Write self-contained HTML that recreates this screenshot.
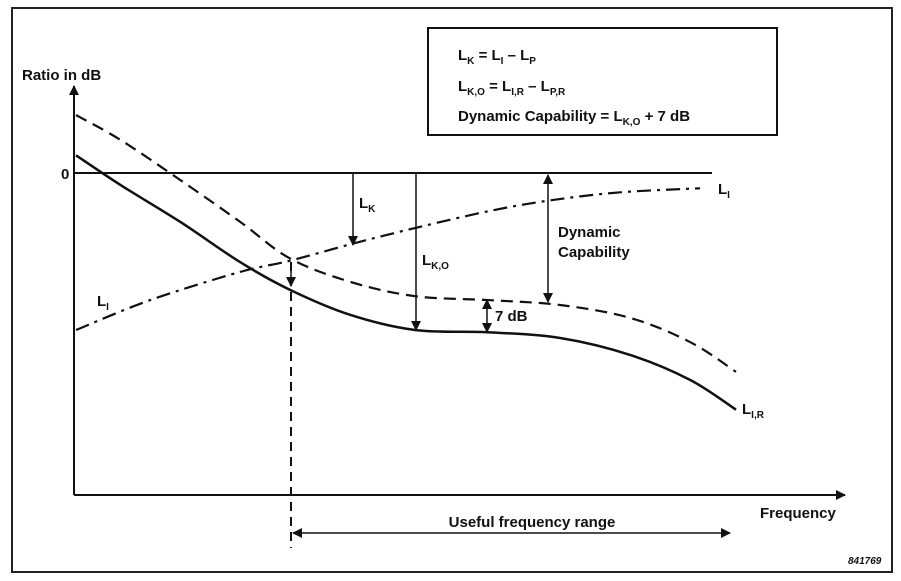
<!DOCTYPE html>
<html><head><meta charset="utf-8"><style>
body{margin:0;background:#fff}
svg{display:block;font-family:"Liberation Sans",Arial,sans-serif;font-weight:bold}
text{fill:#111}
</style></head><body>
<svg id="chart" width="901" height="581" viewBox="0 0 901 581">
<defs>
<marker id="ah" markerWidth="10" markerHeight="12" refX="9" refY="6" orient="auto-start-reverse" markerUnits="userSpaceOnUse"><path d="M0,1 L10,6 L0,11 Z" fill="#111"/></marker>
</defs>
<rect x="12" y="8" width="880" height="564" fill="none" stroke="#222" stroke-width="2"/>
<rect x="428" y="28" width="349" height="107" fill="none" stroke="#111" stroke-width="2"/>
<text x="458" y="60" font-size="15">L<tspan font-size="10" dy="4">K</tspan><tspan dy="-4"> = L</tspan><tspan font-size="10" dy="4">I</tspan><tspan dy="-4"> – L</tspan><tspan font-size="10" dy="4">P</tspan></text>
<text x="458" y="91" font-size="15">L<tspan font-size="10" dy="4">K,O</tspan><tspan dy="-4"> = L</tspan><tspan font-size="10" dy="4">I,R</tspan><tspan dy="-4"> – L</tspan><tspan font-size="10" dy="4">P,R</tspan></text>
<text x="458" y="121" font-size="15">Dynamic Capability = L<tspan font-size="10" dy="4">K,O</tspan><tspan dy="-4"> + 7 dB</tspan></text>

<line x1="74" y1="495" x2="74" y2="86" stroke="#111" stroke-width="2" marker-end="url(#ah)"/>
<line x1="74" y1="495" x2="845" y2="495" stroke="#111" stroke-width="2" marker-end="url(#ah)"/>
<line x1="74" y1="173" x2="712" y2="173" stroke="#111" stroke-width="2"/>
<text x="22" y="80" font-size="15">Ratio in dB</text>
<text x="61" y="179" font-size="15">0</text>
<text x="760" y="518" font-size="15">Frequency</text>
<g id="series"></g>

<line x1="353" y1="173" x2="353" y2="245" stroke="#111" stroke-width="1.5" marker-end="url(#ah)"/>
<text x="359" y="208" font-size="15">L<tspan font-size="10" dy="4">K</tspan></text>
<line x1="416" y1="173" x2="416" y2="330" stroke="#111" stroke-width="1.5" marker-end="url(#ah)"/>
<text x="422" y="265" font-size="15">L<tspan font-size="10" dy="4">K,O</tspan></text>
<line x1="548" y1="175" x2="548" y2="302" stroke="#111" stroke-width="1.5" marker-start="url(#ah)" marker-end="url(#ah)"/>
<text x="558" y="237" font-size="15">Dynamic</text>
<text x="558" y="257" font-size="15">Capability</text>
<line x1="487" y1="300" x2="487" y2="332" stroke="#111" stroke-width="1.5" marker-start="url(#ah)" marker-end="url(#ah)"/>
<text x="495" y="321" font-size="15">7 dB</text>
<line x1="291" y1="262" x2="291" y2="548" stroke="#111" stroke-width="2" stroke-dasharray="9,6"/>
<line x1="291" y1="262" x2="291" y2="286" stroke="#111" stroke-width="1.5" marker-end="url(#ah)"/>
<line x1="293" y1="533" x2="730" y2="533" stroke="#111" stroke-width="1.5" marker-start="url(#ah)" marker-end="url(#ah)"/>
<text x="532" y="527" font-size="15" text-anchor="middle">Useful frequency range</text>
<text x="97" y="306" font-size="15">L<tspan font-size="10" dy="4">I</tspan></text>
<text x="718" y="194" font-size="15">L<tspan font-size="10" dy="4">I</tspan></text>
<text x="742" y="414" font-size="15">L<tspan font-size="10" dy="4">I,R</tspan></text>
<text x="848" y="564" font-size="10" font-style="italic">841769</text>
</svg>
<script>
const freqMain = [0.3, 7, 16, 25, 32.4, 41.4, 51.2, 62.5, 73, 83.5, 92.5, 99.4];
const solidDb = [2.2, -1.5, -6.1, -11.1, -14.5, -17.6, -19.5, -19.8, -20.5, -22.6, -25.7, -29.4];
const dashedDb = [7.2, 4.1, -0.9, -6.1, -10.6, -13.5, -15.3, -15.8, -16.4, -18, -21, -24.7];
const freqLi = [0.3, 11.4, 24.9, 32.4, 42.2, 51.9, 62.5, 71.5, 82, 94];
const liDb = [-19.5, -15.8, -12.3, -10.9, -8.7, -6.7, -4.7, -3.4, -2.4, -1.9];
function xs(f){return 74 + f*6.66;}
function ys(d){return 173 - d*8.05;}
function pathFrom(fr, db){
  const p = fr.map((f,i)=>[xs(f), ys(db[i])]);
  let d = 'M'+p[0][0]+','+p[0][1];
  for(let i=0;i<p.length-1;i++){
    const p0=p[i-1]||p[i], p1=p[i], p2=p[i+1], p3=p[i+2]||p2;
    const c1=[p1[0]+(p2[0]-p0[0])/6, p1[1]+(p2[1]-p0[1])/6];
    const c2=[p2[0]-(p3[0]-p1[0])/6, p2[1]-(p3[1]-p1[1])/6];
    d+=' C'+c1+' '+c2+' '+p2;
  }
  return d;
}
const g = document.getElementById('series');
function add(name, fr, db, dash, w){
  const el = document.createElementNS('http://www.w3.org/2000/svg','path');
  el.setAttribute('d', pathFrom(fr, db));
  el.setAttribute('fill','none');
  el.setAttribute('stroke','#111');
  el.setAttribute('stroke-width', w);
  if(dash) el.setAttribute('stroke-dasharray', dash);
  
  
  g.appendChild(el);
}
add('lir-solid-curve', freqMain, solidDb, null, 2.5);
add('lp-dashed-curve', freqMain, dashedDb, '12,7', 2.2);
add('li-dash-dot-curve', freqLi, liDb, '14,6,3,6', 2.2);
</script>
</body></html>
